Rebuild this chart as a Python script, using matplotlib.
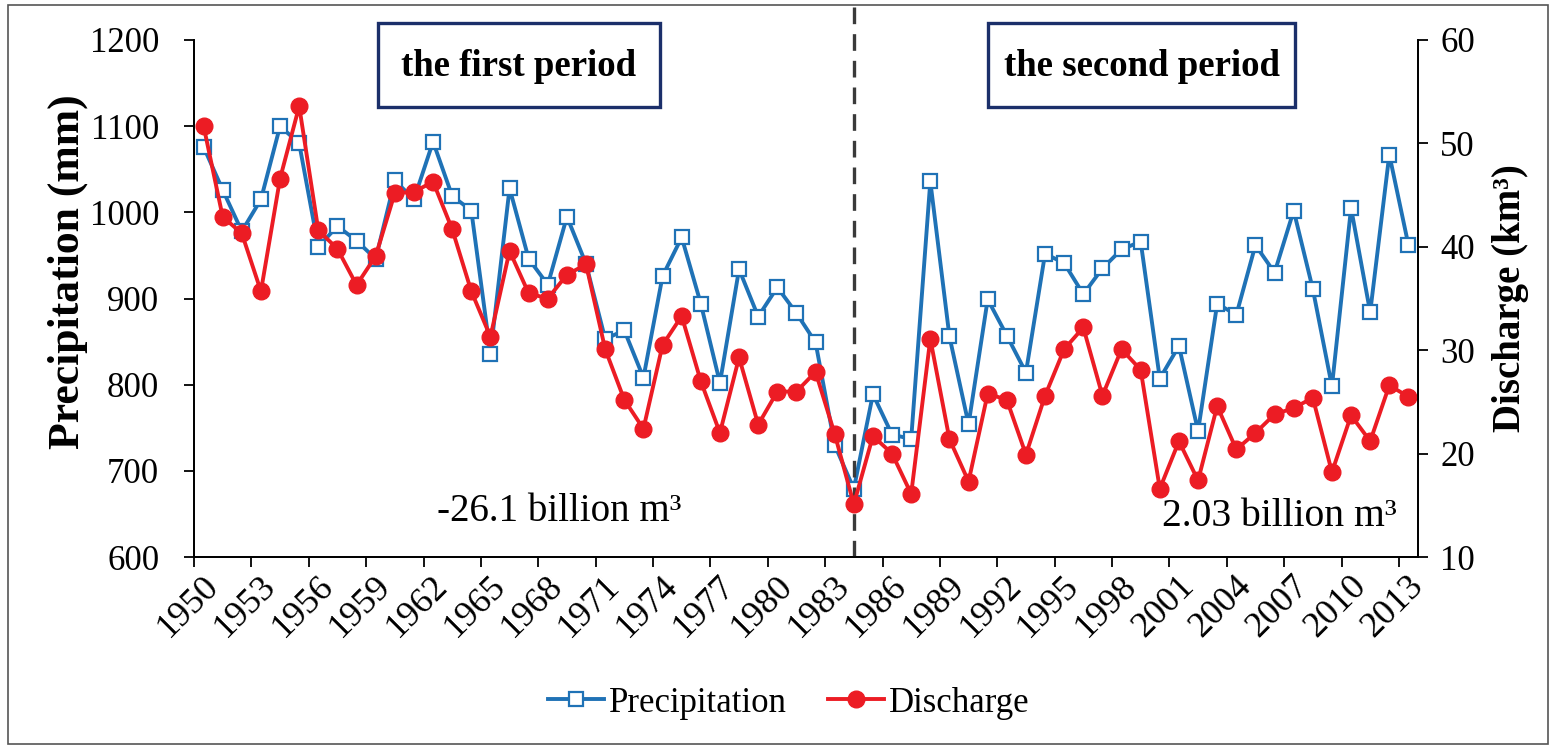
import numpy as np
import matplotlib
matplotlib.use("Agg")
import matplotlib.pyplot as plt
from matplotlib.patches import Rectangle
from matplotlib.transforms import ScaledTranslation

plt.rcParams['font.family'] = ['Liberation Serif', 'DejaVu Serif']

# -----------------------------
# Data
# -----------------------------
years = list(range(1950, 2014))

precipitation = [1076, 1026, 978, 1015, 1100, 1080, 960, 984, 967, 946,
                 1037, 1015, 1082, 1019, 1002, 836, 1028, 946, 916, 995,
                 940, 853, 863, 808, 926, 971, 894, 802, 934, 879,
                 913, 883, 849, 730, 679, 789, 742, 737, 1036, 856,
                 754, 899, 857, 814, 952, 941, 905, 935, 957, 966,
                 807, 845, 746, 894, 881, 962, 930, 1002, 911, 798,
                 1005, 884, 1067, 962]

discharge = [51.7, 42.9, 41.3, 35.7, 46.6, 53.6, 41.6, 39.8, 36.3, 39.1,
             45.2, 45.3, 46.3, 41.7, 35.7, 31.3, 39.6, 35.5, 35.0, 37.3,
             38.3, 30.1, 25.2, 22.4, 30.5, 33.3, 27.0, 22.0, 29.3, 22.8,
             26.0, 26.0, 27.9, 21.9, 15.1, 21.7, 20.0, 16.1, 31.1, 21.4,
             17.3, 25.8, 25.2, 19.9, 25.6, 30.1, 32.2, 25.6, 30.1, 28.1,
             16.6, 21.2, 17.4, 24.6, 20.4, 22.0, 23.8, 24.4, 25.4, 18.2,
             23.7, 21.2, 26.6, 25.5]

split_year = 1984
label_years = years[::3]
change_texts = ["-26.1 billion m\u00b3", "2.03 billion m\u00b3"]
period_texts = ["the first period", "the second period"]

blue = '#1f72b6'
red = '#ec1c24'
W, H = 1556, 745

# -----------------------------
# Figure / axes
# -----------------------------
fig = plt.figure(figsize=(W / 100, H / 100), dpi=100)
ax = fig.add_axes([194 / W, 1 - 557 / H, (1418 - 194) / W, (557 - 40) / H])
ax2 = ax.twinx()

# outer frame of the picture
fig.patches.append(Rectangle((8 / W, 1 / H), (1548 - 8) / W, (740 - 1) / H,
                             transform=fig.transFigure, fill=False,
                             edgecolor='#555555', lw=1.2))

ln1, = ax.plot(years, precipitation, color=blue, lw=2.8, marker='s', ms=10,
               mfc='white', mec=blue, mew=1.6, label='Precipitation')
ln2, = ax2.plot(years, discharge, color=red, lw=2.8, marker='o', ms=12,
                mfc=red, mec=red, label='Discharge')

ax.set_xlim(years[0] - 0.5, years[-1] + 0.5)
ax.set_ylim(600, 1200)
ax.set_yticks(np.arange(600, 1201, 100))
ax2.set_ylim(10, 60)
ax2.set_yticks(np.arange(10, 61, 10))

# category labels every 3 years, tick marks on category boundaries
ax.set_xticks(label_years)
ax.set_xticklabels([str(y) for y in label_years], rotation=45,
                   ha='right', va='center', rotation_mode='anchor')
ax.set_xticks(np.arange(years[0] - 0.5, years[-1] + 1, 3), minor=True)
ax.tick_params(axis='x', which='major', length=0, pad=17, labelsize=26)
ax.tick_params(axis='x', which='minor', length=7, width=1.3, direction='out')
ax.tick_params(axis='y', length=7, width=1.3, direction='out', pad=18,
               labelsize=25)
ax2.tick_params(axis='y', length=7, width=1.3, direction='out', pad=9,
                labelsize=25)
shift = ScaledTranslation(10 / 100, 0, fig.dpi_scale_trans)
for lbl in ax.get_xticklabels():
    lbl.set_transform(lbl.get_transform() + shift)

for a in (ax, ax2):
    a.spines['top'].set_visible(False)
    for s in ('left', 'right', 'bottom'):
        a.spines[s].set_linewidth(1.3)
        a.spines[s].set_color('black')

ax.set_ylabel('Precipitation (mm)', fontsize=31.5, fontweight='bold')
ax.yaxis.set_label_coords(-0.087, 0.551)
ax2.set_ylabel('Discharge (km\u00b3)', fontsize=28, fontweight='bold', labelpad=12)

# dashed split line, runs up to the top of the picture
ax.axvline(split_year, ymin=0, ymax=(557 - 5) / (557 - 40), color='#3a3a3a',
           lw=2.4, ls=(0, (5, 3)), clip_on=False, zorder=5)

# -----------------------------
# Period boxes and text
# -----------------------------
for (x0, x1), txt in zip([(378, 660), (988, 1295)], period_texts):
    fig.patches.append(Rectangle((x0 / W, 1 - 107 / H), (x1 - x0) / W, 84 / H,
                                 transform=fig.transFigure, facecolor='white',
                                 edgecolor='#1b2f6a', lw=2.4))
    fig.text((x0 + x1) / 2 / W, 1 - 66 / H, txt, ha='center', va='center',
             fontsize=26.5, fontweight='bold')

ax.text(1962.2, 642, change_texts[0], fontsize=28, ha='left', va='baseline')
ax.text(2000.1, 636, change_texts[1], fontsize=28.5, ha='left', va='baseline')

fig.legend(handles=[ln1, ln2], loc='center',
           bbox_to_anchor=(789 / W, 1 - 703 / H), ncol=2, frameon=False,
           fontsize=25, handlelength=1.6, handletextpad=0.15,
           columnspacing=1.2)

plt.savefig('out.png', dpi=100)
